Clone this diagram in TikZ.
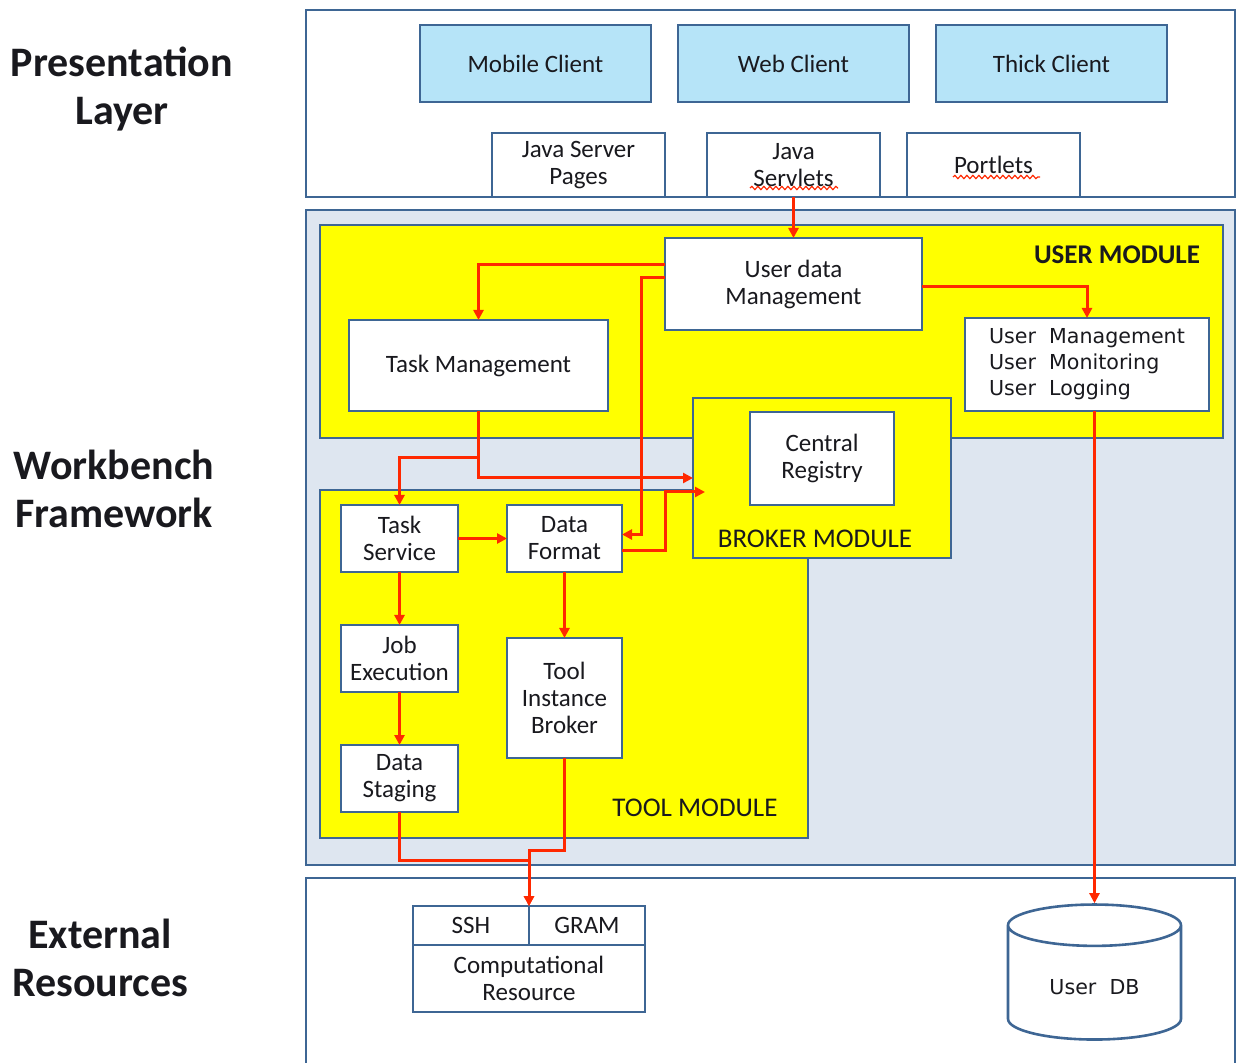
\documentclass[tikz,border=0pt]{standalone}
\usepackage{fontspec}
\setmainfont{Carlito}
\newfontfamily\verdfont{DejaVu Sans}
\usetikzlibrary{arrows,arrows.meta,shapes,calc,positioning,decorations.pathmorphing}
\definecolor{boxblue}{RGB}{62,102,148}
\definecolor{clientblue}{RGB}{182,228,248}
\definecolor{benchgray}{RGB}{222,230,240}
\definecolor{modyellow}{RGB}{255,255,0}
\definecolor{flowred}{RGB}{255,40,0}
\definecolor{textgray}{RGB}{25,25,30}
\tikzstyle{layer} =[draw=boxblue, line width=1.3pt, inner sep=0pt,
                    outer sep=0pt, anchor=north west]
\tikzstyle{module}=[layer, fill=modyellow]
\tikzstyle{box}   =[layer, fill=white, align=center, text=textgray,
                    font=\fontsize{12.5}{13.5}\selectfont]
\tikzstyle{client}=[box, fill=clientblue]
\tikzstyle{flow}  =[draw=flowred, line width=1.5pt,
                    >={Triangle[length=5pt, width=5pt]}, ->]
\tikzstyle{layername}=[align=center, text=textgray,
                    font=\fontsize{21}{24}\selectfont\bfseries]
\tikzstyle{modname}=[text=textgray, font=\fontsize{13.5}{15}\selectfont]
\tikzstyle{squiggle}=[draw=flowred, line width=0.6pt, decorate,
                    decoration={snake, amplitude=0.8pt, segment length=3pt}]
\begin{document}
\begin{tikzpicture}[x=0.5pt, y=-0.5pt]
    \useasboundingbox (0,0) rectangle (1237,1063);
    % layers
    \node (pres) [layer, minimum width=464.5pt, minimum height=93.5pt] at (306,10) {};
    \node (bench) [layer, fill=benchgray, minimum width=464.5pt, minimum height=327.5pt] at (306,210) {};
    \node (ext) [layer, minimum width=464.5pt, minimum height=110pt] at (306,878) {};
    \node (preslbl) [layername] at (122,89) {Presentation\\Layer};
    \node (benchlbl) [layername] at (114,489) {Workbench\\Framework};
    \node (extlbl) [layername] at (100,958) {External\\Resources};
    % presentation layer
    \node (mobile) [client, minimum width=115.5pt, minimum height=38.5pt] at (420,25) {Mobile Client};
    \node (web) [client, minimum width=115.5pt, minimum height=38.5pt, right=13.5pt of mobile] {Web Client};
    \node (thick) [client, minimum width=115.5pt, minimum height=38.5pt, right=13.5pt of web] {Thick Client};
    \node (jsp) [box, minimum width=86.5pt, minimum height=32pt] at (492,133) {Java Server\\Pages};
    \node (servlets) [box, minimum width=86.5pt, minimum height=32pt, right=21pt of jsp] {Java\\Servlets};
    \node (portlets) [box, minimum width=86.5pt, minimum height=32pt, right=13.5pt of servlets] {Portlets};
    \draw [squiggle] (750,188) -- (838,188);
    \draw [squiggle] (953,177) -- (1040,177);
    % workbench modules
    \node (usermod) [module, minimum width=451.5pt, minimum height=106.5pt] at (320,225) {};
    \node (toolmod) [module, minimum width=244pt, minimum height=174pt] at (320,490) {};
    \node (brokermod) [module, minimum width=129pt, minimum height=80pt] at (693,398) {};
    \node (usermodname) [modname, font=\fontsize{13.5}{15}\selectfont\bfseries] at (1117,255) {USER MODULE};
    \node (brokername) [modname] at (815,539) {BROKER MODULE};
    \node (toolname) [modname] at (695,808) {TOOL MODULE};
    \node (udm) [box, minimum width=128.5pt, minimum height=46pt] at (665,238) {User data\\Management};
    \node (taskm) [box, minimum width=129.5pt, minimum height=45.5pt] at (349,320) {Task Management};
    \node (usermgmt) [box, align=left, font=\verdfont\fontsize{10.3}{13}\selectfont,
        minimum width=122pt, minimum height=46.5pt] at (965,318)
        {User~~Management\\User~~Monitoring\\User~~Logging};
    \node (central) [box, minimum width=72pt, minimum height=46.5pt] at (750,412) {Central\\Registry};
    \node (tasksvc) [box, minimum width=58.5pt, minimum height=33.5pt] at (341,505) {Task\\Service};
    \node (datafmt) [box, minimum width=57.5pt, minimum height=33.5pt, right=24.5pt of tasksvc] {Data\\Format};
    \node (jobexec) [box, minimum width=58.5pt, minimum height=33.5pt, below=26.5pt of tasksvc] {Job\\Execution};
    \node (staging) [box, minimum width=58.5pt, minimum height=33.5pt, below=26.5pt of jobexec] {Data\\Staging};
    \node (toolinst) [box, minimum width=57.5pt, minimum height=60pt, below=33pt of datafmt] {Tool\\Instance\\Broker};
    % external resources
    \node (ssh) [box, minimum width=58pt, minimum height=19.5pt] at (413,906) {SSH};
    \node (gram) [box, minimum width=58pt, minimum height=19.5pt, right=0pt of ssh] {GRAM};
    \node (comp) [box, minimum width=116pt, minimum height=33.5pt] at (ssh.south west) {Computational\\Resource};
    \node (db) [cylinder, shape border rotate=90, aspect=0.4, draw=boxblue, line width=1.3pt,
        fill=white, text=textgray, font=\verdfont\fontsize{10.3}{12}\selectfont,
        minimum width=86.5pt, minimum height=67.5pt] at (1094.5,987) {User~~DB};
    % flows
    \draw [flow] (servlets.south) -- (udm.north);
    \draw [flow] ([yshift=9.5pt]udm.west) -| (taskm.north);
    \draw [flow] ([yshift=3pt]udm.west) -| ([xshift=9.5pt,yshift=2pt]datafmt.east) -- ([yshift=2pt]datafmt.east);
    \draw [flow] ([yshift=-6pt]datafmt.east) -- ++(21.5pt,0) |- ([xshift=6pt,yshift=-7pt]brokermod.west);
    \draw [flow] (taskm.south) |- (brokermod.west);
    \draw [flow] ([yshift=-23.5pt]taskm.south) -| (tasksvc.north);
    \draw [flow] (tasksvc) -- (datafmt);
    \draw [flow] (tasksvc) -- (jobexec);
    \draw [flow] (jobexec) -- (staging);
    \draw [flow] (datafmt) -- (toolinst);
    \draw [flow] (staging.south) -- ++(0,-24pt) -| (ssh.north east);
    \draw [flow] (toolinst.south) -- ++(0,-46pt) -| (ssh.north east);
    \draw [flow] ([yshift=-1.5pt]udm.east) -| (usermgmt.north);
    \draw [flow, line width=1.1pt] (db.north |- usermgmt.south) -- (db.north);
\end{tikzpicture}
\end{document}
